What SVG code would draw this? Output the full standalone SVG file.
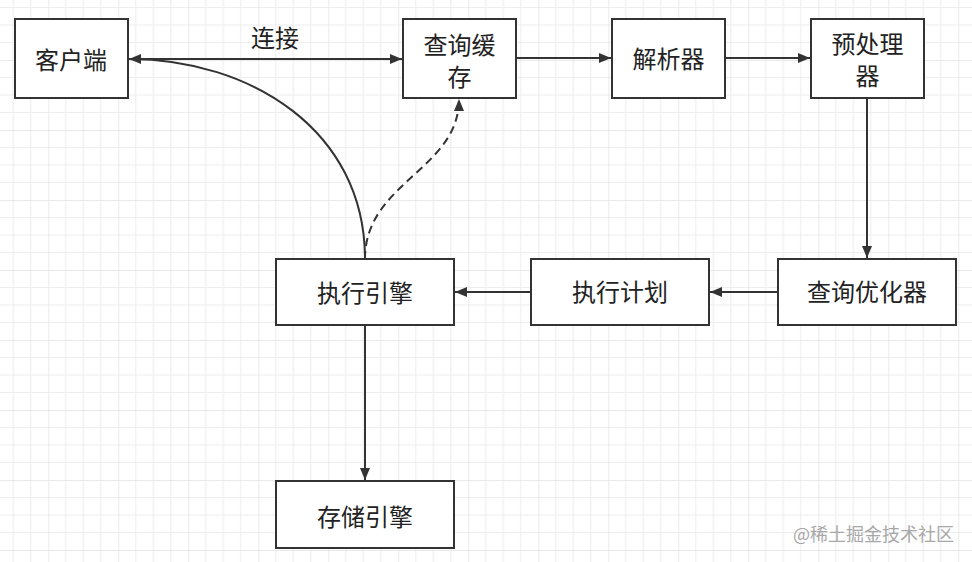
<svg xmlns="http://www.w3.org/2000/svg" width="972" height="562" viewBox="0 0 972 562">
  <defs>
    <pattern id="grid" patternUnits="userSpaceOnUse" x="48.3" y="60" width="70" height="70">
      <path d="M17.5 0V70M35 0V70M52.5 0V70M0 17.5H70M0 35H70M0 52.5H70" stroke="#eeeeee" stroke-width="1.2" fill="none"/>
      <path d="M0 0V70M0 0H70" stroke="#e2e2e2" stroke-width="1.4" fill="none"/>
    </pattern>
    <marker id="arr" markerUnits="userSpaceOnUse" markerWidth="13" markerHeight="11" refX="12" refY="5" orient="auto">
      <path d="M0,0 L12,5 L0,10 Z" fill="#333"/>
    </marker>
  </defs>
  <style>
    .box { fill: #ffffff; stroke: #333333; stroke-width: 2; }
    .lbl { font-family: "Noto Sans CJK SC", "Noto Sans", sans-serif; font-size: 24px; fill: #222222; text-anchor: middle; }
    .edge { fill: none; stroke: #333333; stroke-width: 2; }
    .dash { stroke-dasharray: 8 5; }
    .wm { font-family: "Noto Sans CJK SC", "Noto Sans", sans-serif; font-size: 18px; fill: #a8a8a8; text-anchor: end; }
  </style>
  <rect width="972" height="562" fill="#ffffff"/>
  <rect width="972" height="562" fill="url(#grid)"/>

  <g id="connectors">
    <line class="edge" x1="128" y1="59" x2="402" y2="59" marker-end="url(#arr)"/>
    <text class="lbl" x="275" y="47" font-size="23">连接</text>
    <line class="edge" x1="516" y1="58" x2="611" y2="58" marker-end="url(#arr)"/>
    <line class="edge" x1="725" y1="58" x2="810" y2="58" marker-end="url(#arr)"/>
    <line class="edge" x1="867" y1="98" x2="867" y2="258" marker-end="url(#arr)"/>
    <line class="edge" x1="778" y1="292" x2="710" y2="292" marker-end="url(#arr)"/>
    <line class="edge" x1="531" y1="292" x2="455" y2="292" marker-end="url(#arr)"/>
    <line class="edge" x1="365" y1="325" x2="365" y2="480" marker-end="url(#arr)"/>
    <path class="edge" d="M365,259 C365,130 250,59 129,59" marker-end="url(#arr)"/>
    <path class="edge dash" d="M365,259 C365,182 459,170 459,99" marker-end="url(#arr)"/>
  </g>

  <g id="client">
    <rect class="box" x="15" y="19" width="113" height="79"/>
    <text class="lbl" x="71" y="69">客户端</text>
  </g>
  <g id="query-cache">
    <rect class="box" x="403" y="19" width="113" height="79"/>
    <text class="lbl" x="459.5" y="54">查询缓</text>
    <text class="lbl" x="459.5" y="86">存</text>
  </g>
  <g id="parser">
    <rect class="box" x="612" y="19" width="113" height="79"/>
    <text class="lbl" x="668.5" y="68">解析器</text>
  </g>
  <g id="preprocessor">
    <rect class="box" x="811" y="19" width="113" height="79"/>
    <text class="lbl" x="867.5" y="53">预处理</text>
    <text class="lbl" x="867.5" y="85">器</text>
  </g>
  <g id="executor">
    <rect class="box" x="276" y="259" width="178" height="66"/>
    <text class="lbl" x="365" y="302">执行引擎</text>
  </g>
  <g id="plan">
    <rect class="box" x="531" y="259" width="178" height="66"/>
    <text class="lbl" x="620" y="301">执行计划</text>
  </g>
  <g id="optimizer">
    <rect class="box" x="778" y="259" width="178" height="66"/>
    <text class="lbl" x="867" y="301">查询优化器</text>
  </g>
  <g id="storage">
    <rect class="box" x="276" y="481" width="178" height="67"/>
    <text class="lbl" x="365" y="526">存储引擎</text>
  </g>
  <text class="wm" x="954" y="540.5">@稀土掘金技术社区</text>
</svg>
